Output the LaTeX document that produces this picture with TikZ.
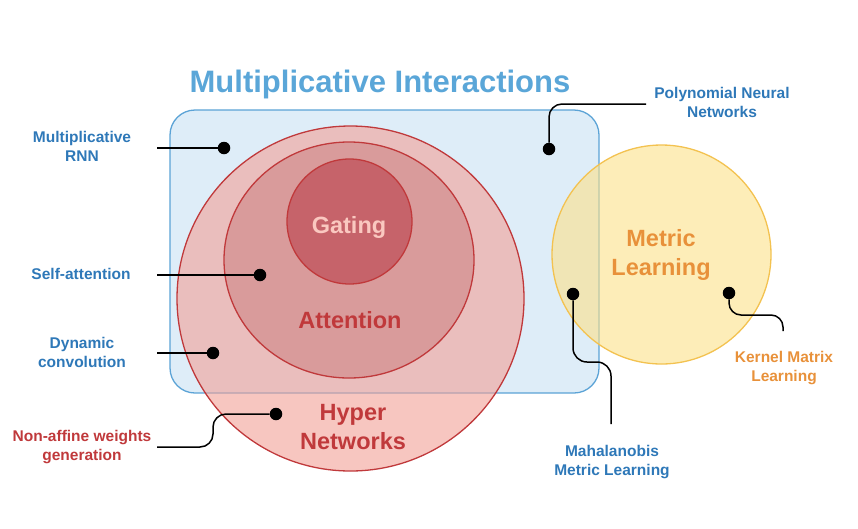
\documentclass[tikz,border=0pt]{standalone}
\usepackage{fontspec}
\setmainfont{Liberation Sans}
\usepackage{xcolor}
\usetikzlibrary{positioning}
\definecolor{boxblue}{RGB}{222,237,248}
\definecolor{boxedge}{RGB}{91,163,214}
\definecolor{titleblue}{RGB}{90,166,216}
\definecolor{labelblue}{RGB}{46,120,184}
\definecolor{hyperfill}{RGB}{242,160,150}
\definecolor{rededge}{RGB}{192,57,59}
\definecolor{attfill}{RGB}{217,155,155}
\definecolor{gatefill}{RGB}{198,99,106}
\definecolor{gatetext}{RGB}{250,200,192}
\definecolor{metricfill}{RGB}{252,225,137}
\definecolor{metricedge}{RGB}{243,194,80}
\definecolor{orangetext}{RGB}{232,145,58}

\begin{document}
\begin{tikzpicture}[x=1pt,y=-1pt,
		dot/.style={circle,fill=black,inner sep=0pt,minimum size=12.5pt},
		link/.style={line width=1.5pt,black},
		sidelabel/.style={inner sep=0pt,align=center,font=\fontsize{15.5}{19}\selectfont\bfseries},
		biglabel/.style={inner sep=0pt,align=center,font=\fontsize{23.5}{29}\selectfont\bfseries}]
		\useasboundingbox (0,0) rectangle (858,528);
		% sets
		\draw[line width=1.3pt,boxedge,fill=boxblue,rounded corners=25pt] (170,110) rectangle (599,393);
		\draw[line width=1.3pt,rededge,fill=hyperfill,fill opacity=0.6] (350.5,298.5) circle[x radius=173.5pt,y radius=172.5pt];
		\draw[line width=1.3pt,rededge,fill=attfill] (349,260) circle[x radius=125pt,y radius=118pt];
		\draw[line width=1.3pt,rededge,fill=gatefill] (349.5,221.5) circle[radius=62.5pt];
		\draw[line width=1.3pt,metricedge,fill=metricfill,fill opacity=0.6] (661.5,254.5) circle[radius=109.5pt];
		% set names
		\node[inner sep=0pt,anchor=base,text=titleblue,font=\fontsize{31}{36}\selectfont\bfseries] (title) at (380,92) {Multiplicative Interactions};
		\node[biglabel,anchor=base,text=gatetext] (gating) at (349,233) {Gating};
		\node[biglabel,anchor=base,text=rededge] (attention) at (350,328) {Attention};
		\node[biglabel,text=rededge] (hyper) at (353,427) {Hyper\\Networks};
		\node[biglabel,text=orangetext] (metric) at (661,254.5) {Metric\\Learning};
		% examples
		\node[sidelabel,text=labelblue] (mrnn) at (82,146) {Multiplicative\\RNN};
		\node[sidelabel,anchor=base,text=labelblue] (selfatt) at (81,279) {Self-attention};
		\node[sidelabel,text=labelblue] (dynconv) at (82,352) {Dynamic\\convolution};
		\node[sidelabel,text=rededge] (nonaffine) at (82,447) {Non-affine weights\\generation};
		\node[sidelabel,text=labelblue] (polynn) at (722,102) {Polynomial Neural\\Networks};
		\node[sidelabel,text=labelblue] (mahala) at (612,462) {Mahalanobis\\Metric Learning};
		\node[sidelabel,text=orangetext] (kernel) at (784,368) {Kernel Matrix\\Learning};
		% dots
		\node[dot] (mrnndot) at (224,148) {};
		\node[dot] (selfattdot) at (260,275) {};
		\node[dot] (dynconvdot) at (213,353) {};
		\node[dot] (nonaffinedot) at (276,414) {};
		\node[dot] (polynndot) at (549,149) {};
		\node[dot] (mahaladot) at (573,294) {};
		\node[dot] (kerneldot) at (729,293) {};
		% free ends
		\coordinate (mrnnend) at (157,148);
		\coordinate (selfattend) at (157,275);
		\coordinate (dynconvend) at (157,353);
		\coordinate (nonaffineend) at (157,447);
		\coordinate (polynnend) at (646,104);
		\coordinate (mahalaend) at (611,424);
		\coordinate (kernelend) at (783,331);
		% connectors
		\draw[link] (mrnndot) -- (mrnnend);
		\draw[link] (selfattdot) -- (selfattend);
		\draw[link] (dynconvdot) -- (dynconvend);
		\draw[link,rounded corners=13pt] (nonaffinedot) -- (213,414) -- (213,447) -- (nonaffineend);
		\draw[link,rounded corners=13pt] (polynndot) |- (polynnend);
		\draw[link,rounded corners=14pt] (mahaladot) |- (611,362) -- (mahalaend);
		\draw[link,rounded corners=12pt] (kerneldot) |- (783,315) -- (kernelend);
	\end{tikzpicture}
\end{document}
